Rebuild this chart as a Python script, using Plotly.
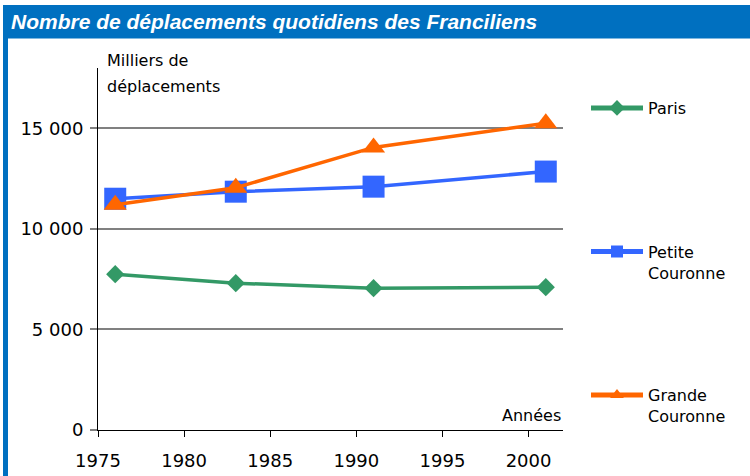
import plotly.graph_objects as go

# ---- data ----
years = [1976, 1983, 1991, 2001]
paris = [7750, 7300, 7050, 7100]
petite_couronne = [11500, 11850, 12100, 12850]
grande_couronne = [11200, 12050, 14050, 15250]
series_names = ["Paris<br> ", "Petite<br>Couronne", "Grande<br>Couronne"]
x_ticks = [1975, 1980, 1985, 1990, 1995, 2000]
y_ticks = [0, 5000, 10000, 15000]
title_text = "Nombre de déplacements quotidiens des Franciliens"

W, H = 750, 476
L, R, T, B = 98, 563, 68, 430  # plot area in pixels


def px(x):
    return (x - L) / (R - L)


def py(y):
    return (B - y) / (B - T)


GREEN = "#339966"
BLUE = "#3366FF"
ORANGE = "#FF6600"
FRAME = "#0070C0"
FONT = "DejaVu Sans, Verdana, sans-serif"

fig = go.Figure()
styles = [
    (paris, GREEN, "diamond", 14),
    (petite_couronne, BLUE, "square", 22),
    (grande_couronne, ORANGE, "triangle-up", 20),
]
for name, (vals, col, sym, size) in zip(series_names, styles):
    fig.add_trace(go.Scatter(
        x=years, y=vals, name=name, mode="lines+markers",
        line=dict(color=col, width=3.5),
        marker=dict(color=col, symbol=sym, size=size),
        legendgroup=name, cliponaxis=False,
    ))

fig.update_layout(
    width=W, height=H,
    margin=dict(l=L, r=W - R, t=T, b=H - B, pad=0, autoexpand=False),
    paper_bgcolor="white", plot_bgcolor="white",
    separators=", ",
    font=dict(family=FONT, size=16, color="black"),
    showlegend=True,
    legend=dict(
        x=px(586), y=py(91), xanchor="left", yanchor="top",
        tracegroupgap=99, valign="top", itemsizing="constant",
        itemwidth=52,
        font=dict(family=FONT, size=16, color="black"),
        bgcolor="rgba(0,0,0,0)",
    ),
    xaxis=dict(
        range=[1975, 2002], tickvals=x_ticks, showgrid=False,
        showline=True, linecolor="black", linewidth=1,
        ticks="outside", ticklen=6, tickcolor="black", tickwidth=1,
        tickfont=dict(family=FONT, size=18, color="black"),
        ticklabelstandoff=8, zeroline=False, automargin=False,
    ),
    yaxis=dict(
        range=[0, 18000], tickvals=y_ticks, tickformat=",d",
        showgrid=True, gridcolor="#808080", gridwidth=2,
        showline=True, linecolor="black", linewidth=1,
        ticks="outside", ticklen=7, tickcolor="#808080", tickwidth=2,
        tickfont=dict(family=FONT, size=18, color="black"),
        ticklabelstandoff=3, zeroline=False, automargin=False,
    ),
    shapes=[
        dict(type="rect", xref="paper", yref="paper",
             x0=px(3), x1=px(750), y0=py(38.5), y1=py(5),
             fillcolor=FRAME, line=dict(width=0), layer="above"),
        dict(type="rect", xref="paper", yref="paper",
             x0=px(3), x1=px(8), y0=py(480), y1=py(5),
             fillcolor=FRAME, line=dict(width=0), layer="above"),
    ],
    annotations=[
        dict(text="<b><i>" + title_text + "</i></b>", xref="paper", yref="paper",
             x=px(9), y=py(21), xanchor="left", yanchor="middle", showarrow=False,
             font=dict(family="Liberation Sans Narrow, Arial Narrow, Liberation Sans, sans-serif",
                       size=21, color="white")),
        dict(text="Milliers de", xref="paper", yref="paper",
             x=px(105), y=py(60), xanchor="left", yanchor="middle", showarrow=False,
             font=dict(family=FONT, size=16, color="black")),
        dict(text="déplacements", xref="paper", yref="paper",
             x=px(105), y=py(86), xanchor="left", yanchor="middle", showarrow=False,
             font=dict(family=FONT, size=16, color="black")),
        dict(text="Années", xref="paper", yref="paper",
             x=1.0, y=py(415), xanchor="right", yanchor="middle", showarrow=False,
             font=dict(family=FONT, size=16, color="black")),
    ],
)

fig.write_html("out.html", config={"displayModeBar": False},
               post_script="document.body.style.margin='0';")
